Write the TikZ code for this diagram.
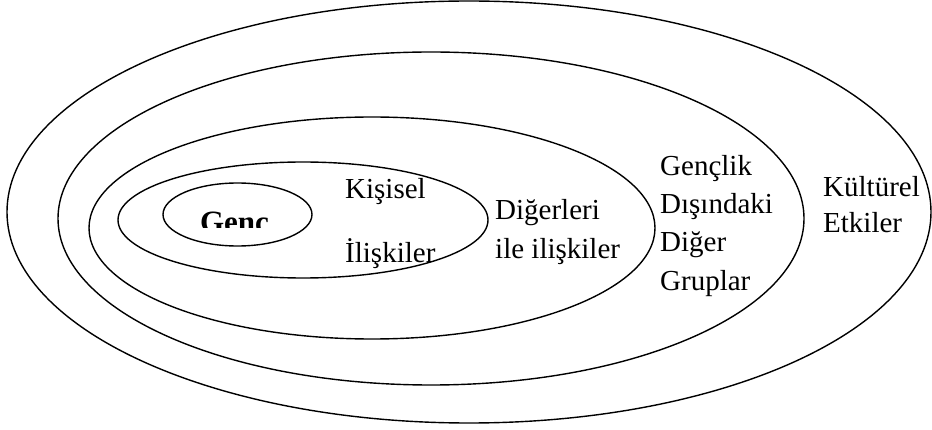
\documentclass[tikz,border=0pt]{standalone}
\usepackage{fontspec}
\setmainfont{Liberation Serif}
\usetikzlibrary{positioning}

\tikzset{
	ring/.style={line width=1.4pt},
	lbl/.style={anchor=base west, inner sep=0pt, font=\fontsize{29}{38}\selectfont},
	core/.style={anchor=base, inner sep=0pt, font=\fontsize{31}{38}\selectfont\bfseries},
}

\begin{document}
\begin{tikzpicture}[x=1pt, y=-1pt]
	\useasboundingbox (0,0) rectangle (932,430);
	
	% circles of influence, outside in
	\draw[ring] (469,212) ellipse [x radius=462pt, y radius=211pt];
	\draw[ring] (431,218.5) ellipse [x radius=373pt, y radius=166.5pt];
	\draw[ring] (372,228) ellipse [x radius=283pt, y radius=111pt];
	\draw[ring] (303,220) ellipse [x radius=185pt, y radius=58pt];
	\draw[ring] (237.5,214.5) ellipse [x radius=74.5pt, y radius=31.5pt];
	
	\begin{scope}
		\clip (190,200) rectangle (285,228);
		\node[core] (genc) at (234.5,233) {Genc};
	\end{scope}
	
	\node[lbl] (kisisel) at (345,199) {Kişisel};
	\node[lbl] (iliskiler) at (345,263) {İlişkiler};
	
	\node[lbl] (digerleri) at (495,220) {Diğerleri};
	\node[lbl] (ile) at (495,259) {ile ilişkiler};
	
	\node[lbl] (genclik) at (660,176) {Gençlik};
	\node[lbl] (disindaki) at (660,214) {Dışındaki};
	\node[lbl] (diger) at (660,252) {Diğer};
	\node[lbl] (gruplar) at (660,291) {Gruplar};
	
	\node[lbl] (kulturel) at (823,197) {Kültürel};
	\node[lbl] (etkiler) at (823,233) {Etkiler};
\end{tikzpicture}
\end{document}
